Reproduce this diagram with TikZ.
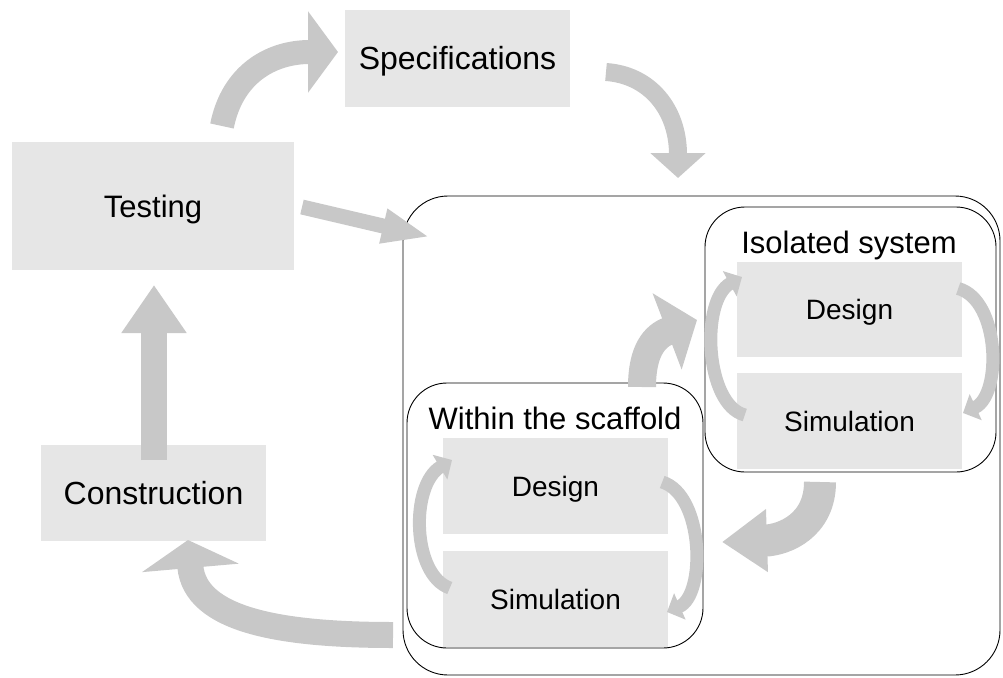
\documentclass[tikz,border=0pt]{standalone}
\usepackage{fontspec}
\setmainfont{Liberation Sans}
\usetikzlibrary{arrows.meta}
\definecolor{boxgray}{RGB}{230,230,230}
\definecolor{arrowgray}{RGB}{200,200,200}
\newcommand{\fsz}[1]{\fontsize{#1}{#1}\selectfont}
\begin{document}
\begin{tikzpicture}[x=1pt,y=-1pt,
  gbox/.style={fill=boxgray, draw=none, inner sep=0pt, text depth=0pt},
  grouprect/.style={draw=black, line width=0.9pt},
  blk/.style={draw=arrowgray, line width=#1},
  lbl/.style={inner sep=0pt, anchor=base}]
\useasboundingbox (0,0) rectangle (1003,677);
% group frames
\draw[grouprect, rounded corners=45pt] (403,196) rectangle (1000,675);
\draw[grouprect, rounded corners=40pt] (705,207) rectangle (996,472);
\draw[grouprect, rounded corners=40pt] (407,383) rectangle (703,648);
% main boxes
\node[gbox, minimum width=225pt, minimum height=97pt, font=\fsz{32}, text height=23pt] (spec) at (457.5,58.5) {Specifications};
\node[gbox, minimum width=282pt, minimum height=128pt, font=\fsz{31}, text height=22.3pt] (test) at (153,206) {Testing};
\node[gbox, minimum width=225pt, minimum height=96pt, font=\fsz{32}, text height=23pt] (cons) at (153.5,493) {Construction};
% isolated system
\node[gbox, minimum width=225pt, minimum height=95pt, font=\fsz{28}, text height=20.2pt] (idesign) at (849.5,309.5) {Design};
\node[gbox, minimum width=225pt, minimum height=96pt, font=\fsz{28}, text height=20.2pt] (isim) at (849.5,421) {Simulation};
\node[lbl, font=\fsz{31}] (ilabel) at (849,253) {Isolated system};
% within the scaffold
\node[gbox, minimum width=225pt, minimum height=96pt, font=\fsz{28}, text height=20.2pt] (sdesign) at (555.5,486) {Design};
\node[gbox, minimum width=225pt, minimum height=96pt, font=\fsz{28}, text height=20.2pt] (ssim) at (555.5,599) {Simulation};
\node[lbl, font=\fsz{31}] (slabel) at (555,429) {Within the scaffold};
% arrow end points
\coordinate (a1s) at (222,126); \coordinate (a1e) at (338,52);
\coordinate (a2s) at (606,72);  \coordinate (a2e) at (678,178);
\coordinate (a3s) at (302,207); \coordinate (a3e) at (430,237);
\coordinate (a4s) at (154,460); \coordinate (a4e) at (154,285);
\coordinate (a5s) at (393,635); \coordinate (a5e) at (188,540);
\coordinate (a6s) at (642,387); \coordinate (a6e) at (697,320);
\coordinate (a7s) at (820,482); \coordinate (a7e) at (722,542);
% big arrows
\draw[blk=24pt, -{Triangle[length=30pt,width=80pt]}] (a1s) .. controls (232,75) and (270,52) .. (a1e);
\draw[blk=18pt, -{Triangle[length=25pt,width=54pt]}] (a2s) .. controls (650,75) and (678,110) .. (a2e);
\draw[blk=15pt, -{Triangle[length=48pt,width=32pt]}] (a3s) -- (a3e);
\draw[blk=26pt, -{Triangle[length=48pt,width=62pt]}] (a4s) -- (a4e);
\draw[blk=26pt, -{Triangle[length=28pt,width=96pt]}] (a5s) .. controls (280,635) and (195,620) .. (a5e);
\draw[blk=28pt, -{Triangle[length=32pt,width=80pt]}] (a6s) .. controls (642,350) and (655,336) .. (a6e);
\draw[blk=32pt, -{Triangle[length=45pt,width=60pt]}] (a7s) .. controls (820,525) and (785,540) .. (a7e);
% small loop arrows
\draw[blk=13pt, -{Triangle[length=14pt,width=28pt]}] (isim.west) ++(8,-6) .. controls (705,405) and (700,300) .. (742,277);
\draw[blk=13pt, -{Triangle[length=14pt,width=28pt]}] (idesign.east) ++(-4,-21) .. controls (1000,300) and (1002,395) .. (963,413);
\draw[blk=13pt, -{Triangle[length=14pt,width=28pt]}] (ssim.west) ++(7,-11) .. controls (412,575) and (410,485) .. (452,460);
\draw[blk=13pt, -{Triangle[length=14pt,width=28pt]}] (sdesign.east) ++(-6,-4) .. controls (704,495) and (706,595) .. (667,612);
\end{tikzpicture}
\end{document}
